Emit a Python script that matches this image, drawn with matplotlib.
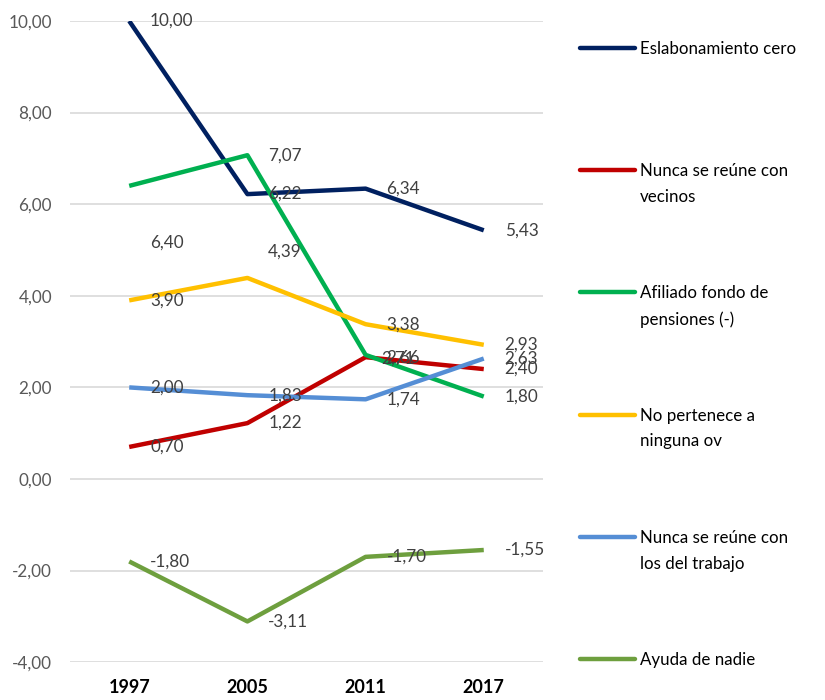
import matplotlib.pyplot as plt
from matplotlib.lines import Line2D

years = ["1997", "2005", "2011", "2017"]
series_names = [
    "Eslabonamiento cero",
    "Nunca se reúne con\nvecinos",
    "Afiliado fondo de\npensiones (-)",
    "No pertenece a\nninguna ov",
    "Nunca se reúne con\nlos del trabajo",
    "Ayuda de nadie",
]
eslabonamiento = [10.00, 6.22, 6.34, 5.43]
vecinos = [0.70, 1.22, 2.66, 2.40]
pensiones = [6.40, 7.07, 2.71, 1.80]
ninguna_ov = [3.90, 4.39, 3.38, 2.93]
trabajo = [2.00, 1.83, 1.74, 2.63]
ayuda = [-1.80, -3.11, -1.70, -1.55]
all_series = [eslabonamiento, vecinos, pensiones, ninguna_ov, trabajo, ayuda]
colors = ["#002060", "#C00000", "#00B050", "#FFC000", "#558ED5", "#6E9F3E"]

# label nudges (points) for the few labels Excel moved
nudge = {(2, 0): (0, -41), (3, 1): (0, 19), (2, 2): (-4, -3)}

plt.rcParams['font.family'] = ['Lato', 'DejaVu Sans']

fig = plt.figure(figsize=(8.25, 7), dpi=100)
ax = fig.add_axes([0.085, 0.054, 0.573, 0.916])

x = list(range(len(years)))
for i, vals in enumerate(all_series):
    ax.plot(x, vals, color=colors[i], lw=3.2, solid_capstyle='butt', zorder=3)
    for j, v in enumerate(vals):
        dx, dy = nudge.get((i, j), (0, 0))
        ax.annotate(f"{v:.2f}".replace(".", ","), (j, v), xytext=(15 + dx, dy),
                    textcoords='offset points', ha='left', va='center',
                    fontsize=12.3, color='#404040', zorder=4)

ax.set_xlim(-0.5, 3.5)
ax.set_ylim(-4, 10)
ax.set_yticks(range(-4, 11, 2))
ax.set_yticklabels([f"{t:.2f}".replace(".", ",") for t in range(-4, 11, 2)])
ax.set_xticks(x)
ax.set_xticklabels(years, fontweight='bold', fontsize=13, color='black')
ax.tick_params(axis='y', length=0, pad=13, labelsize=12.3, labelcolor='#595959')
ax.tick_params(axis='x', length=0, pad=12)
ax.grid(axis='y', color='#D9D9D9', lw=1.2)
ax.set_axisbelow(True)
for s in ax.spines.values():
    s.set_visible(False)

# legend drawn by hand so the line sits on the first text row
for i, name in enumerate(series_names):
    ypix = 48 + i * 122.2
    yf = 1 - ypix / 700
    fig.add_artist(Line2D([580 / 825, 635 / 825], [yf, yf], color=colors[i],
                          lw=3.2, solid_capstyle='round'))
    fig.text(640 / 825, yf + 7 / 700, name, fontsize=12.2, color='black',
             va='top', ha='left', linespacing=1.75)

fig.savefig("out.png", dpi=100)
